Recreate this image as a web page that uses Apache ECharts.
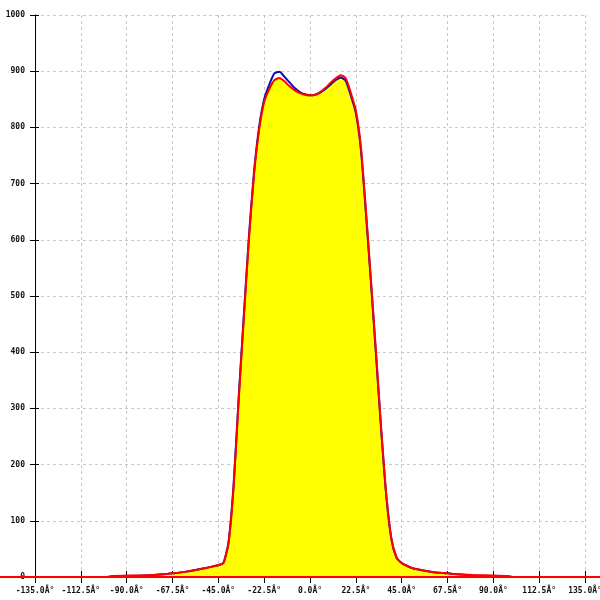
<!DOCTYPE html>
<html>
<head>
<meta charset="utf-8">
<script src="https://cdn.jsdelivr.net/npm/echarts@6/dist/echarts.min.js"></script>
<style>html,body{margin:0;padding:0;background:#fff}#c{width:600px;height:600px}</style>
</head>
<body>
<div id="c"></div>
<script>
// angle samples (degrees)
var angles = [-180, -100, -97.5, -90, -80, -70, -67.5, -60, -55, -50, -47.5, -45, -42.5, -40, -37.5, -35, -32.5, -30, -27.5, -25, -22.5, -20, -17.5, -15, -12.5, -10, -7.5, -5, -2.5, 0, 2.5, 5, 7.5, 10, 12.5, 15, 17.5, 20, 22.5, 25, 27.5, 30, 32.5, 35, 37.5, 40, 42.5, 45, 47.5, 50, 55, 60, 67.5, 70, 80, 90, 97.5, 100, 180];
// red series
var redValues = [0, 0, 2, 2.5, 3, 5.5, 6.5, 10, 13.5, 17, 19, 21, 25, 60, 160, 315, 460, 600, 715, 795, 845, 868, 884, 888, 882, 873, 866, 861, 858, 857, 858, 863, 870, 879, 887, 893, 888, 862, 830, 765, 650, 525, 395, 262, 145, 68, 35, 25, 20, 16, 12, 9, 6.5, 5.5, 3.5, 2.5, 2, 0, 0];
// blue series
var blueValues = [null, null, 1, 1.5, 2.5, 5.5, 6.5, 10, 13.5, 17, 19, 21, 25, 62, 165, 320, 465, 605, 720, 800, 850, 876, 896, 899, 890, 880, 870, 863, 859, 857, 858, 862, 868, 876, 884, 889, 883, 857, 826, 760, 645, 520, 390, 258, 142, 66, 34, 25, 20, 16, 12, 9, 6.5, 5.5, 2.5, 1.5, 1, null, null];
// red zero baseline that runs across the whole picture
var baselineX = [-1, 1];
var baselineValues = [0, 0];
// axis ticks
var xTickValues = [-135, -112.5, -90, -67.5, -45, -22.5, 0, 22.5, 45, 67.5, 90, 112.5, 135];
var yTickValues = [0, 100, 200, 300, 400, 500, 600, 700, 800, 900, 1000];

var redData = angles.map(function (a, i) { return [a, redValues[i]]; });
var blueData = angles.map(function (a, i) { return [a, blueValues[i]]; });
var fillData = angles.map(function (a, i) {
  var b = blueValues[i];
  return [a, b == null ? redValues[i] : Math.min(redValues[i], b)];
});
var baselineData = baselineX.map(function (x, i) { return [x, baselineValues[i]]; });

function xLabel(v) { return v.toFixed(1) + 'Â°'; }
function yLabel(v) { return String(v); }

var chart = echarts.init(document.getElementById('c'), null, { renderer: 'canvas' });
var font = 'DejaVu Sans Mono';
var SM = 0.2;
chart.setOption({
  animation: false,
  backgroundColor: '#ffffff',
  grid: [
    { left: 35, right: 15, top: 15, bottom: 23, containLabel: false, outerBoundsMode: 'none' },
    { left: 0, right: 0, top: 15, bottom: 23, containLabel: false, outerBoundsMode: 'none' }
  ],
  xAxis: [
    {
      type: 'value', gridIndex: 0, min: xTickValues[0], max: xTickValues[xTickValues.length - 1], interval: 22.5, position: 'bottom',
      axisLine: { show: true, onZero: false, lineStyle: { color: '#000', width: 1 } },
      axisTick: { show: true, length: 6, lineStyle: { color: '#000' } },
      axisLabel: { show: true, margin: 10, fontFamily: font, fontSize: 8, fontWeight: 'bold', color: '#111', formatter: xLabel, hideOverlap: false },
      splitLine: { show: true, lineStyle: { color: '#c8c8c8', type: [3, 3], width: 1 } }
    },
    {
      type: 'value', gridIndex: 0, min: xTickValues[0], max: xTickValues[xTickValues.length - 1], interval: 22.5, position: 'bottom', offset: 0,
      axisLine: { show: false, onZero: false },
      axisTick: { show: true, inside: true, length: 6, lineStyle: { color: '#000' } },
      axisLabel: { show: false }, splitLine: { show: false }
    },
    { type: 'value', gridIndex: 1, min: -1, max: 1, show: false }
  ],
  yAxis: [
    {
      type: 'value', gridIndex: 0, min: yTickValues[0], max: yTickValues[yTickValues.length - 1], interval: 100, position: 'left',
      axisLine: { show: true, onZero: false, lineStyle: { color: '#000', width: 1 } },
      axisTick: { show: true, length: 5, lineStyle: { color: '#000' } },
      axisLabel: { show: true, margin: 10, fontFamily: font, fontSize: 8, fontWeight: 'bold', color: '#111', formatter: yLabel },
      splitLine: { show: true, lineStyle: { color: '#c8c8c8', type: [3, 3], width: 1 } }
    },
    {
      type: 'value', gridIndex: 0, min: yTickValues[0], max: yTickValues[yTickValues.length - 1], interval: 100, position: 'left', offset: 0,
      axisLine: { show: false, onZero: false },
      axisTick: { show: true, inside: true, length: 4, lineStyle: { color: '#000' } },
      axisLabel: { show: false }, splitLine: { show: false }
    },
    { type: 'value', gridIndex: 1, min: yTickValues[0], max: yTickValues[yTickValues.length - 1], show: false }
  ],
  series: [
    {
      type: 'line', data: fillData, showSymbol: false, symbol: 'none', smooth: SM,
      lineStyle: { width: 0 }, areaStyle: { color: '#ffff00', opacity: 1 },
      silent: true, z: 2
    },
    {
      type: 'line', data: blueData, showSymbol: false, symbol: 'none', connectNulls: false, smooth: SM,
      lineStyle: { color: '#0a0ab4', width: 2 }, silent: true, z: 3
    },
    {
      type: 'line', xAxisIndex: 2, yAxisIndex: 2, data: baselineData, showSymbol: false, symbol: 'none',
      lineStyle: { color: '#ff0000', width: 2 }, silent: true, z: 4
    },
    {
      type: 'line', data: redData, showSymbol: false, symbol: 'none', smooth: SM,
      lineStyle: { color: '#ff0000', width: 2 }, silent: true, z: 4
    }
  ]
});
</script>
</body>
</html>
